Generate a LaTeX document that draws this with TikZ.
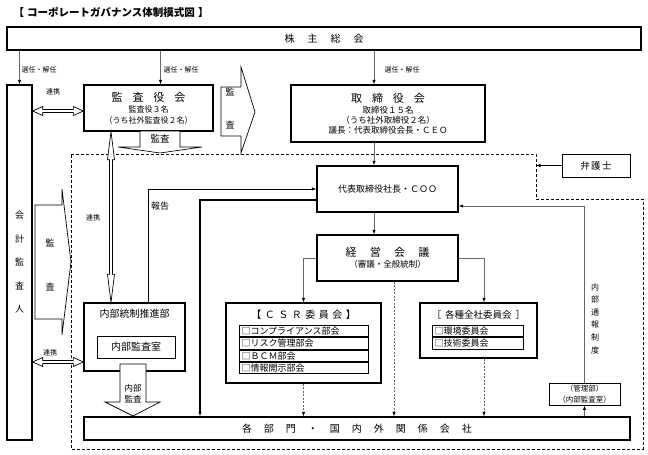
\documentclass[tikz,border=0pt]{standalone}
\usepackage{fontspec}
\setmainfont{Noto Sans CJK JP}
\usetikzlibrary{arrows.meta,calc}

\newcommand{\kgap}[1][0.9em]{\hspace{#1}}

\tikzset{
  box/.style={draw, line width=1.3pt, fill=white, inner sep=0pt},
  item/.style={draw, line width=1pt, anchor=north west, text width=125pt, minimum height=11.3pt, inner xsep=2pt, inner ysep=0pt, align=left, font=\fontsize{9}{10}\selectfont},
  conn/.style={draw=black!60, line width=0.8pt, -{Latex[black,length=4.5pt,width=3.5pt]}},
  dconn/.style={conn, dash pattern=on 2pt off 1.5pt},
  hollow/.style={draw, line width=0.7pt, fill=white},
  lbl/.style={font=\fontsize{7}{8}\selectfont},
}

\begin{document}
\begin{tikzpicture}[x=1pt,y=-1pt]
\useasboundingbox (0,0) rectangle (648,455);

\node [anchor=west, font=\bfseries\fontsize{10.5}{12}\selectfont] (title) at (10,12) {【\kgap[0.3em]コーポレートガバナンス体制模式図\kgap[0.3em]】};

% dashed frame
\draw [line width=0.8pt, dash pattern=on 3pt off 2pt] (71,154) -- (536,154) -- (536,199) -- (643,199) -- (643,449) -- (71,449) -- cycle;
\coordinate (frame) at (536,166);

% boxes
\node [box, minimum width=634, minimum height=23, font=\fontsize{10}{12}\selectfont] (kabunushi) at (324,38.5) {株\kgap[1.3em]主\kgap[1.3em]総\kgap[1.3em]会};
\node [box, minimum width=25, minimum height=355, align=center, font=\fontsize{9}{23.5}\selectfont] (kaikei) at (19.5,262.5) {会\\計\\監\\査\\人};
\node [box, minimum width=129, minimum height=46, align=center, font=\fontsize{8}{10.5}\selectfont] (kansa) at (148.5,108) {{\fontsize{11}{13}\selectfont 監\kgap 査\kgap 役\kgap 会}\\[1pt]監査役３名\\（うち社外監査役２名）};
\node [box, minimum width=194, minimum height=57, align=center, font=\fontsize{8.5}{10}\selectfont] (torishimari) at (388,113.5) {{\fontsize{11}{13}\selectfont 取\kgap 締\kgap 役\kgap 会}\\[1pt]取締役１５名\\（うち社外取締役２名）\\議長：代表取締役会長・ＣＥＯ};
\node [box, line width=1pt, minimum width=68, minimum height=23, font=\fontsize{9.5}{11}\selectfont] (bengoshi) at (596,165.5) {弁\kgap[0.15em]護\kgap[0.15em]士};
\node [box, minimum width=141, minimum height=46, font=\fontsize{9}{11}\selectfont] (coo) at (387.5,189) {代表取締役社長・ＣＯＯ};
\node [box, minimum width=141, minimum height=46, align=center, font=\fontsize{8.5}{10.5}\selectfont] (keiei) at (387.5,258) {{\fontsize{11}{13}\selectfont 経\kgap[1.2em]営\kgap[1.2em]会\kgap[1.2em]議}\\[0.5pt]（審議・全般統制）};

\node [box, minimum width=101, minimum height=68] (naibu) at (134.5,337) {};
\node [font=\fontsize{10}{12}\selectfont] (naibuhead) at (134.5,314) {内部統制推進部};
\node [box, line width=1pt, minimum width=78, minimum height=22, font=\fontsize{10}{12}\selectfont] (naibukansa) at (136,347) {内部監査室};

\node [box, minimum width=155, minimum height=80] (csr) at (303.5,343) {};
\node [font=\fontsize{10}{12}\selectfont] (csrhead) at (303.5,315) {【\kgap[0.35em]Ｃ\kgap[0.35em]Ｓ\kgap[0.35em]Ｒ\kgap[0.35em]委\kgap[0.35em]員\kgap[0.35em]会\kgap[0.35em]】};
\node [item] (csr1) at (239,325) {□コンプライアンス部会};
\node [item] (csr2) at (csr1.south west) {□リスク管理部会};
\node [item] (csr3) at (csr2.south west) {□ＢＣＭ部会};
\node [item] (csr4) at (csr3.south west) {□情報開示部会};

\node [box, minimum width=117, minimum height=55] (kakushu) at (478.5,330.5) {};
\node [font=\fontsize{9.5}{12}\selectfont] (kakushuhead) at (478.5,315) {［\kgap[0.4em]各種全社委員会\kgap[0.4em]］};
\node [item, text width=87pt] (kakushu1) at (432,325) {□環境委員会};
\node [item, text width=87pt] (kakushu2) at (kakushu1.south west) {□技術委員会};

\node [box, line width=0.9pt, minimum width=71, minimum height=22, align=center, font=\fontsize{7.5}{11}\selectfont] (kanri) at (584.5,394) {（管理部）\\（内部監査室）};
\node [box, minimum width=546, minimum height=23, font=\fontsize{10}{12}\selectfont] (kakubumon) at (357,428.5) {各\kgap[1.2em]部\kgap[1.2em]門\kgap[1.2em]・\kgap[1.2em]国\kgap[1.2em]内\kgap[1.2em]外\kgap[1.2em]関\kgap[1.2em]係\kgap[1.2em]会\kgap[1.2em]社};

% labels
\node [lbl] (sel1) at (39,70) {選任・解任};
\node [lbl] (sel2) at (181,70) {選任・解任};
\node [lbl] (sel3) at (402,70) {選任・解任};
\node [lbl] (renkei1) at (53,92) {連携};
\node [lbl] (renkei2) at (93,218) {連携};
\node [lbl] (renkei3) at (50,353) {連携};
\node [font=\fontsize{9}{11}\selectfont] (hokoku) at (160,206) {報告};
\node [align=center, font=\fontsize{8}{12.6}\selectfont] (tsuho) at (595,318.5) {内\\部\\通\\報\\制\\度};

% connectors
\coordinate (trunk) at (374,0);
\coordinate (kansain) at ([xshift=12]kansa.north);
\draw [conn] (kabunushi.south -| kaikei.north) -- (kaikei.north);
\draw [conn] (kansain |- kabunushi.south) -- (kansain);
\draw [conn] (kabunushi.south -| trunk) -- (torishimari.north -| trunk);
\draw [conn] (torishimari.south -| trunk) -- (coo.north -| trunk);
\draw [conn] (coo.south -| trunk) -- (keiei.north -| trunk);

\coordinate (kakushuin) at ([xshift=5.5]kakushu.north);
\draw [conn] (keiei.west) -| (csr.north);
\draw [conn] (keiei.east) -| (kakushuin);

\coordinate (keieiout) at ([xshift=6.5]keiei.south);
\coordinate (kakushuout) at ([xshift=5.5]kakushu.south);
\draw [dconn] (csr.south) -- (csr.south |- kakubumon.north);
\draw [dconn] (keieiout) -- (keieiout |- kakubumon.north);
\draw [dconn] (kakushuout) -- (kakushuout |- kakubumon.north);

\coordinate (cooin) at ([yshift=-17]coo.east);
\draw [conn] (kakubumon.north -| kanri.south) -- (kanri.south);
\draw [conn] (kanri.north) |- (cooin);
\draw [conn, draw=black] (bengoshi.west) -- (bengoshi.west -| frame);

\coordinate (hokokuout) at ([xshift=13.5]naibu.north);
\draw [conn, draw=black] (hokokuout) |- (coo.west);
\coordinate (cooout) at ([yshift=-11]coo.west);
\coordinate (bumonin) at ([xshift=-157]kakubumon.north);
\draw [conn, draw=black, line width=1.3pt] (cooout) -| (bumonin);

% hollow double arrows
\coordinate (lk1) at (111,200);
\coordinate (lk2) at (58,362);
\coordinate (lk3) at (58,111);
\draw [hollow] (kaikei.east |- lk3) -- ++(10,-4.5) -- ++(0,3) -- ($(kansa.west |- lk3)+(-10,-1.5)$) -- ++(0,-3) -- (kansa.west |- lk3) -- ++(-10,4.5) -- ++(0,-3) -- ($(kaikei.east |- lk3)+(10,1.5)$) -- ++(0,3) -- cycle;
\draw [hollow] (kaikei.east |- lk2) -- ++(10,-4.5) -- ++(0,3) -- ($(naibu.west |- lk2)+(-10,-1.5)$) -- ++(0,-3) -- (naibu.west |- lk2) -- ++(-10,4.5) -- ++(0,-3) -- ($(kaikei.east |- lk2)+(10,1.5)$) -- ++(0,3) -- cycle;
\draw [hollow] (lk1 |- kansa.south) -- ++(3.5,28) -- ++(-2,0) -- ($(lk1 |- naibu.north)+(1.5,-28)$) -- ++(2,0) -- (lk1 |- naibu.north) -- ++(-3.5,-28) -- ++(2,0) -- ($(lk1 |- kansa.south)+(-1.5,28)$) -- ++(-2,0) -- cycle;

% block arrows
\draw [hollow] (140,131) -- (180,131) -- (180,147) -- (202,147) -- (160,153) -- (118,147) -- (140,147) -- cycle;
\node [font=\fontsize{9.5}{11}\selectfont] (kansaarrow) at (160,139) {監査};
\draw [hollow] (221,87) -- (241,87) -- (241,67) -- (255,112) -- (241,153) -- (241,136) -- (221,136) -- cycle;
\node [align=center, font=\fontsize{9}{33}\selectfont] (kansaright) at (230,108.5) {監\\査};
\draw [hollow] (35,205) -- (62,205) -- (62,189) -- (71,262) -- (62,335) -- (62,319) -- (35,319) -- cycle;
\node [align=center, font=\fontsize{9}{44}\selectfont] (kansaleft) at (50,265) {監\\査};
\draw [hollow] (120,364) -- (146,364) -- (146,402) -- (160,402) -- (133,416) -- (105,402) -- (120,402) -- cycle;
\node [align=center, font=\fontsize{8.5}{11}\selectfont] (naibuarrow) at (133,394) {内部\\監査};
\end{tikzpicture}
\end{document}
